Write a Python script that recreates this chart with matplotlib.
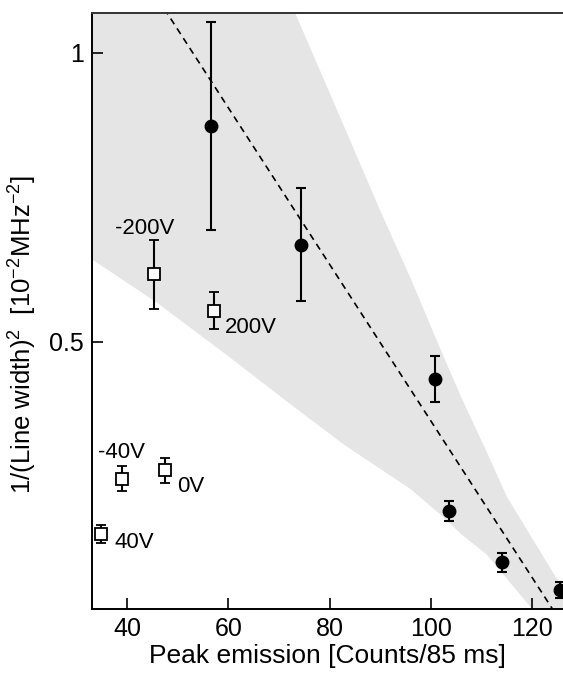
import matplotlib
matplotlib.use("Agg")
import matplotlib.pyplot as plt
import numpy as np

plt.rcParams['font.family'] = ['Liberation Sans', 'DejaVu Sans']
plt.rcParams['mathtext.fontset'] = 'custom'
plt.rcParams['mathtext.rm'] = 'Liberation Sans'
plt.rcParams['mathtext.it'] = 'Liberation Sans:italic'

# filled circles (fitted series)
fit_x = [56.6, 74.4, 100.9, 103.6, 114.1, 125.6]
fit_y = [0.873, 0.667, 0.436, 0.207, 0.119, 0.070]
fit_lo = [0.693, 0.570, 0.396, 0.190, 0.102, 0.056]
fit_hi = [1.053, 0.766, 0.475, 0.224, 0.135, 0.084]

# open squares (bias voltages)
volt_x = [45.3, 57.2, 39.0, 47.5, 34.9]
volt_y = [0.617, 0.553, 0.262, 0.278, 0.167]
volt_lo = [0.557, 0.522, 0.242, 0.256, 0.151]
volt_hi = [0.676, 0.586, 0.285, 0.299, 0.183]
volt_labels = ['-200V', '200V', '-40V', '0V', '40V']

# linear fit and its confidence band
line_intercept = 1.718
line_slope = -0.01355
band_x = [33, 46, 60, 73, 83, 90, 96, 102, 106, 111, 115, 120, 125, 128]
band_hi = [1.885, 1.62, 1.34, 1.073, 0.87, 0.727, 0.61, 0.485, 0.404, 0.31, 0.232, 0.16, 0.088, 0.01]
band_lo = [0.643, 0.567, 0.475, 0.387, 0.321, 0.280, 0.245, 0.200, 0.167, 0.132, 0.090, 0.0375, -0.02, -0.05]

label_offsets = [(-28, 33), (8, -11.5), (-17, 19), (8.5, -12), (10, -6)]

fig = plt.figure(figsize=(5.63, 6.73), dpi=100)
ax = fig.add_axes([0.1634, 0.0951, 0.8366, 0.8856])

ax.fill_between(band_x, band_lo, band_hi, color='#e5e5e5', lw=0, zorder=0)

xs = np.array([30, 135])
ax.plot(xs, line_intercept + line_slope * xs, ls=(0, (4, 3)), color='black', lw=1.2, zorder=1)

f_err = [np.array(fit_y) - np.array(fit_lo), np.array(fit_hi) - np.array(fit_y)]
ax.errorbar(fit_x, fit_y, yerr=f_err, fmt='o', color='black', ms=9,
            elinewidth=1.5, capsize=3.5, capthick=1.5, zorder=3)

v_err = [np.array(volt_y) - np.array(volt_lo), np.array(volt_hi) - np.array(volt_y)]
ax.errorbar(volt_x, volt_y, yerr=v_err, fmt='s', mfc='white', mec='black', mew=1.3,
            color='black', ms=8, elinewidth=1.5, capsize=3.5, capthick=1.5, zorder=3)

for x, y, lab, off in zip(volt_x, volt_y, volt_labels, label_offsets):
    ax.annotate(lab, (x, y), xytext=off, textcoords='offset points',
                fontsize=16, ha='left', va='center')

ax.set_xlim(33.1, 126.1)
ax.set_ylim(0.0375, 1.0687)
ax.set_xticks([40, 60, 80, 100, 120])
ax.set_yticks([0.5, 1])
ax.set_yticklabels(['0.5', '1'])
ax.tick_params(direction='in', length=8, width=1.2, labelsize=18, pad=6)
ax.spines['right'].set_visible(False)
for s in ['left', 'bottom', 'top']:
    ax.spines[s].set_linewidth(1.4)
ax.spines['top'].set_color('#333333')

ax.set_xlabel('Peak emission [Counts/85 ms]', fontsize=19, labelpad=2)
ax.set_ylabel(r'1/(Line width)$^2$  [10$^{-2}$MHz$^{-2}$]', fontsize=18.5, labelpad=4)
ax.yaxis.set_label_coords(-0.112, 0.46)

fig.savefig('out.png', dpi=100)
